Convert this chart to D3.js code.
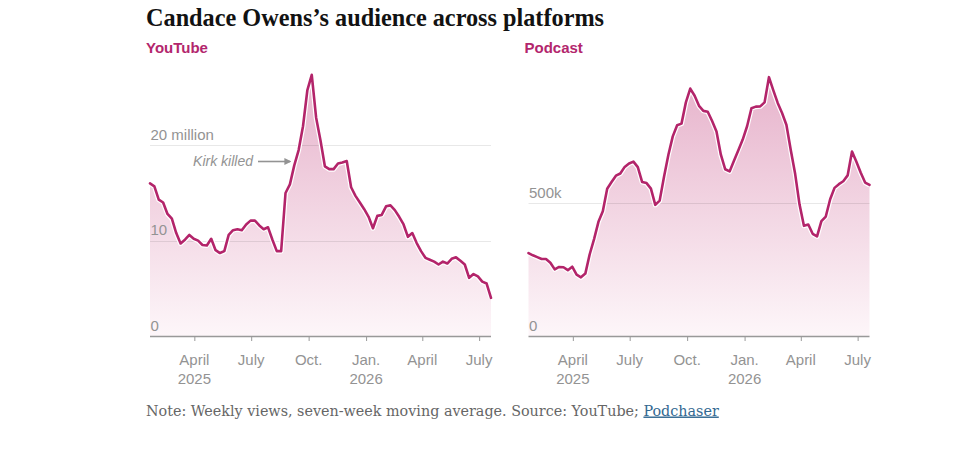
<!DOCTYPE html>
<html>
<head>
<meta charset="utf-8">
<script src="https://cdn.jsdelivr.net/npm/d3@7"></script>
<style>
  html, body { margin: 0; padding: 0; background: #fff; }
  svg { display: block; }
</style>
</head>
<body>
<div id="chart"></div>
<script>
// ---- Data ----
const startDate = "2025-01-20";   // first weekly point
const endDate = "2026-07-20";     // last weekly point
// YouTube weekly views, millions (seven-week moving average)
const youtubeViews = [16.0, 15.7, 14.3, 14.0, 12.8, 12.3, 10.8, 9.7, 10.1, 10.6,
  10.2, 10.0, 9.55, 9.5, 10.2, 9.0, 8.7, 8.9, 10.6, 11.1,
  11.2, 11.1, 11.7, 12.1, 12.1, 11.6, 11.2, 11.4, 10.1, 8.9,
  8.9, 15.0, 15.9, 17.9, 19.5, 22.0, 25.8, 27.4, 22.9, 20.5,
  17.8, 17.5, 17.5, 18.1, 18.2, 18.35, 15.6, 14.7, 14.0, 13.3,
  12.5, 11.3, 12.6, 12.7, 13.6, 13.7, 13.2, 12.5, 11.7, 10.4,
  10.8, 9.75, 8.9, 8.2, 8.0, 7.8, 7.5, 7.8, 7.6, 8.1,
  8.25, 7.9, 7.5, 6.1, 6.5, 6.25, 5.7, 5.5, 4.0];
// Podcast weekly views, thousands
const podcastViews = [312, 304, 297, 290, 290, 276, 251, 260, 259, 248,
  261, 231, 221, 235, 308, 365, 430, 470, 555, 580,
  604, 612, 637, 650, 657, 636, 580, 576, 555, 494,
  510, 600, 683, 752, 794, 800, 880, 932, 905, 867,
  848, 845, 810, 770, 683, 628, 620, 660, 700, 740,
  790, 858, 864, 865, 880, 975, 925, 878, 840, 795,
  700, 610, 495, 415, 420, 385, 375, 433, 450, 515,
  558, 572, 583, 605, 695, 656, 615, 578, 569];
const tickDates = ["2025-04-01", "2025-07-01", "2025-10-01", "2026-01-01", "2026-04-01", "2026-07-01"];
const tickMonths = ["April", "July", "Oct.", "Jan.", "April", "July"];
const tickYears = ["2025", "", "", "2026", "", ""];
const youtubeTicks = [0, 10, 20];
const youtubeTickLabels = ["0", "10", "20 million"];
const podcastTicks = [0, 500];
const podcastTickLabels = ["0", "500k"];

// ---- Setup ----
const W = 960, H = 451;
const parse = d3.utcParse("%Y-%m-%d");
const t0 = parse(startDate);
const dates = youtubeViews.map((_, i) => d3.utcDay.offset(t0, 7 * i));

const svg = d3.select("#chart").append("svg").attr("width", W).attr("height", H);

const lineColor = "#b3246a";
const gray = "#939393";

function fitWidth(sel, target) {
  const fs = +sel.attr("font-size");
  const w = sel.node().getComputedTextLength();
  if (w > 0) sel.attr("font-size", (fs * target / w).toFixed(2));
}

const title = svg.append("text")
  .attr("x", 146).attr("y", 26)
  .attr("font-family", "'Liberation Serif', 'DejaVu Serif', serif")
  .attr("font-weight", "bold")
  .attr("font-size", 24)
  .attr("fill", "#121212")
  .text("Candace Owens’s audience across platforms");
fitWidth(title, 458);

const defs = svg.append("defs");
const grad = defs.append("linearGradient")
  .attr("id", "fillGrad")
  .attr("gradientUnits", "userSpaceOnUse")
  .attr("x1", 0).attr("x2", 0).attr("y1", 70).attr("y2", 336);
grad.append("stop").attr("offset", 0).attr("stop-color", "#e6b1ca");
grad.append("stop").attr("offset", 1).attr("stop-color", "#fdf6f9");

const arrowM = defs.append("marker")
  .attr("id", "arrowHead")
  .attr("viewBox", "0 0 10 10")
  .attr("refX", 8).attr("refY", 5)
  .attr("markerWidth", 7).attr("markerHeight", 7)
  .attr("markerUnits", "userSpaceOnUse")
  .attr("orient", "auto");
arrowM.append("path").attr("d", "M0,0 L10,5 L0,10 Z").attr("fill", gray);

function panel(opts) {
  const { x0, x1, title, values, yMax, ticks, tickLabels } = opts;
  const baseY = 336;
  const x = d3.scaleUtc().domain([parse(startDate), parse(endDate)]).range([x0, x1]);
  const y = d3.scaleLinear().domain([0, yMax]).range([baseY, 70]);
  const g = svg.append("g");

  g.append("text")
    .attr("x", x0 - 4).attr("y", 53)
    .attr("font-family", "'Liberation Sans', Arial, sans-serif")
    .attr("font-weight", "bold")
    .attr("font-size", 15)
    .attr("fill", "#b3266d")
    .text(title);

  const area = d3.area().x((d, i) => x(dates[i])).y0(y(0)).y1(d => y(d));
  const line = d3.line().x((d, i) => x(dates[i])).y(d => y(d));

  g.append("path").datum(values).attr("d", area).attr("fill", "url(#fillGrad)");

  // gridlines
  g.selectAll(".grid").data(ticks.filter(t => t > 0)).join("line")
    .attr("x1", x0).attr("x2", x1)
    .attr("y1", d => Math.round(y(d)) + 0.5).attr("y2", d => Math.round(y(d)) + 0.5)
    .attr("stroke", "#000").attr("stroke-opacity", 0.09).attr("stroke-width", 1);

  // y tick labels
  g.selectAll(".ylab").data(ticks).join("text")
    .attr("x", x0 + 0.5).attr("y", d => y(d) - 5.5)
    .attr("font-family", "'Liberation Sans', Arial, sans-serif")
    .attr("font-size", 15)
    .attr("fill", gray)
    .text((d, i) => tickLabels[i]);

  g.append("path").datum(values).attr("d", line)
    .attr("fill", "none").attr("stroke", "#fff").attr("stroke-width", 5)
    .attr("stroke-linejoin", "round");
  g.append("path").datum(values).attr("d", line)
    .attr("fill", "none").attr("stroke", lineColor).attr("stroke-width", 2.6)
    .attr("stroke-linejoin", "round").attr("stroke-linecap", "round");

  // x axis
  const tds = tickDates.map(parse);
  const axis = d3.axisBottom(x).tickValues(tds).tickSize(5).tickFormat("");
  const ag = g.append("g").attr("transform", `translate(0,${baseY})`).call(axis);
  ag.select(".domain").attr("stroke", "#999").attr("stroke-width", 1.6)
    .attr("d", `M${x0},0.5H${x1}`);
  ag.selectAll(".tick line").attr("stroke", "#999").attr("stroke-width", 1);

  g.selectAll(".mlab").data(tds).join("text")
    .attr("x", d => x(d)).attr("y", 365)
    .attr("text-anchor", "middle")
    .attr("font-family", "'Liberation Sans', Arial, sans-serif")
    .attr("font-size", 15)
    .attr("fill", gray)
    .text((d, i) => tickMonths[i]);
  g.selectAll(".ylab2").data(tds).join("text")
    .attr("x", d => x(d)).attr("y", 384)
    .attr("text-anchor", "middle")
    .attr("font-family", "'Liberation Sans', Arial, sans-serif")
    .attr("font-size", 15)
    .attr("fill", gray)
    .text((d, i) => tickYears[i]);
  return { x, y, g };
}

const left = panel({ x0: 150, x1: 491, title: "YouTube", values: youtubeViews,
  yMax: 27.9, ticks: youtubeTicks, tickLabels: youtubeTickLabels });
const right = panel({ x0: 528.5, x1: 869.5, title: "Podcast", values: podcastViews,
  yMax: 1002, ticks: podcastTicks, tickLabels: podcastTickLabels });

// Annotation
const ann = left.g.append("g");
ann.append("text")
  .attr("x", 253).attr("y", 166)
  .attr("text-anchor", "end")
  .attr("font-family", "'Liberation Sans', Arial, sans-serif")
  .attr("font-style", "italic")
  .attr("font-size", 14)
  .attr("fill", gray)
  .text("Kirk killed");
ann.append("line")
  .attr("x1", 258).attr("x2", 290).attr("y1", 161.5).attr("y2", 161.5)
  .attr("stroke", gray).attr("stroke-width", 1.6)
  .attr("marker-end", "url(#arrowHead)");

// Note
const note = svg.append("text")
  .attr("x", 146).attr("y", 415.5)
  .attr("font-family", "'DejaVu Serif', 'Liberation Serif', serif")
  .attr("font-size", 14.5)
  .attr("fill", "#666");
note.append("tspan").text("Note: Weekly views, seven-week moving average. Source: YouTube; ");
note.append("tspan").attr("fill", "#326891").attr("text-decoration", "underline").text("Podchaser");
fitWidth(note, 573);
</script>
</body>
</html>
